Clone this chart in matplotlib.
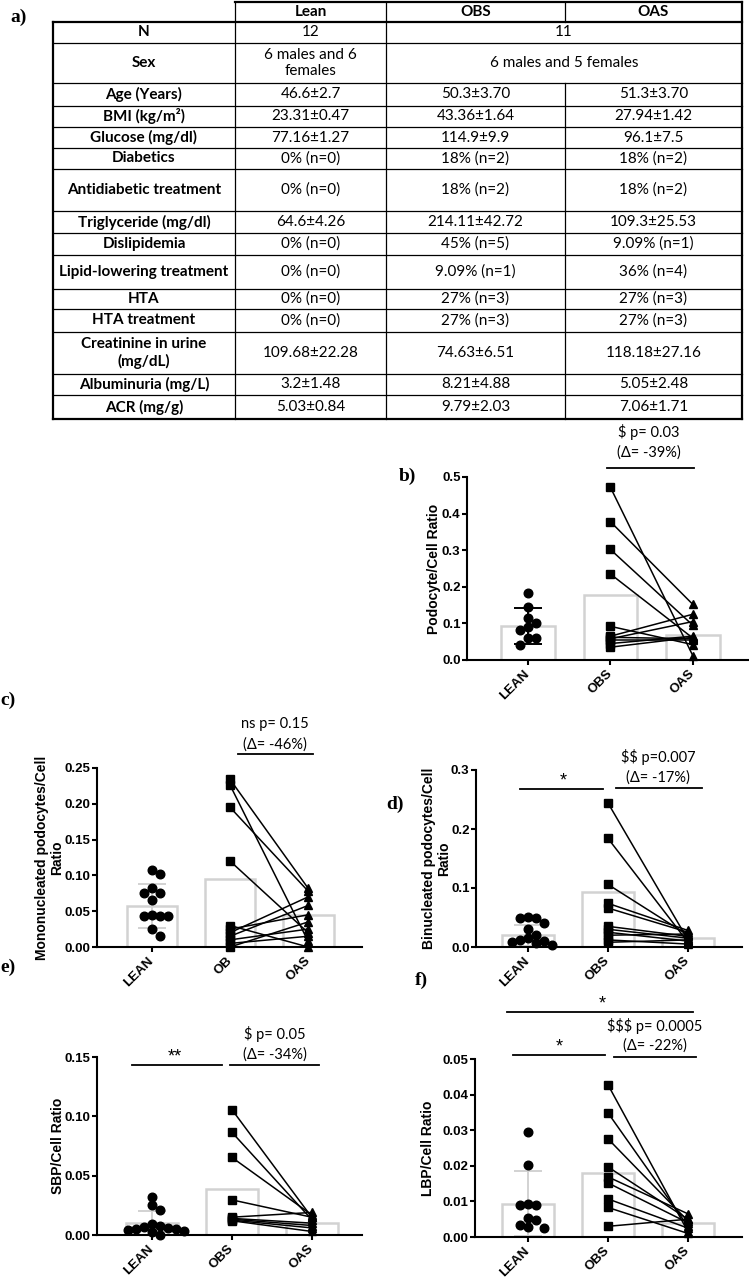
import numpy as np
import matplotlib.pyplot as plt

W, H = 749, 1279
TXT_FONT = ['Lato', 'DejaVu Sans']
AX_FONT = ['Liberation Sans', 'DejaVu Sans']
LETTER_FONT = ['Liberation Serif', 'DejaVu Serif']
BAR_EDGE = '#d2d2d2'

plt.rcParams['font.family'] = AX_FONT

# ---------------- table a) ----------------
col_headers = ['Lean', 'OBS', 'OAS']
row_labels = ['N', 'Sex', 'Age (Years)', 'BMI (kg/m²)', 'Glucose (mg/dl)', 'Diabetics',
              'Antidiabetic treatment', 'Triglyceride (mg/dl)', 'Dislipidemia',
              'Lipid-lowering treatment', 'HTA', 'HTA treatment',
              'Creatinine in urine\n(mg/dL)', 'Albuminuria (mg/L)', 'ACR (mg/g)']
lean_vals = ['12', '6 males and 6\nfemales', '46.6±2.7', '23.31±0.47', '77.16±1.27', '0% (n=0)',
             '0% (n=0)', '64.6±4.26', '0% (n=0)', '0% (n=0)', '0% (n=0)', '0% (n=0)',
             '109.68±22.28', '3.2±1.48', '5.03±0.84']
obs_vals = ['11', '6 males and 5 females', '50.3±3.70', '43.36±1.64', '114.9±9.9', '18% (n=2)',
            '18% (n=2)', '214.11±42.72', '45% (n=5)', '9.09% (n=1)', '27% (n=3)', '27% (n=3)',
            '74.63±6.51', '8.21±4.88', '9.79±2.03']
# None -> cell merged with the OBS column
oas_vals = [None, None, '51.3±3.70', '27.94±1.42', '96.1±7.5', '18% (n=2)',
            '18% (n=2)', '109.3±25.53', '9.09% (n=1)', '36% (n=4)', '27% (n=3)', '27% (n=3)',
            '118.18±27.16', '5.05±2.48', '7.06±1.71']

# ---------------- panel data ----------------
groups = ['LEAN', 'OBS', 'OAS']
groups_c = ['LEAN', 'OB', 'OAS']

# b) Podocyte/Cell ratio
b_lean = [0.182, 0.144, 0.116, 0.102, 0.091, 0.082, 0.059, 0.059, 0.041]
b_obs = [0.472, 0.378, 0.302, 0.235, 0.092, 0.065, 0.062, 0.058, 0.055, 0.045, 0.035]
b_oas = [0.012, 0.152, 0.095, 0.060, 0.042, 0.125, 0.058, 0.105, 0.055, 0.065, 0.062]
b_means = [0.093, 0.177, 0.068]
b_sd = 0.048

# c) Mononucleated podocytes/Cell ratio
c_lean = [0.107, 0.102, 0.083, 0.076, 0.076, 0.065, 0.045, 0.043, 0.043, 0.043, 0.025, 0.015]
c_obs = [0.234, 0.226, 0.195, 0.120, 0.030, 0.025, 0.020, 0.015, 0.010, 0.005, 0.000]
c_oas = [0.082, 0.008, 0.078, 0.020, 0.000, 0.045, 0.070, 0.058, 0.025, 0.015, 0.035]
c_means = [0.057, 0.095, 0.044]
c_sd = 0.031

# d) Binucleated podocytes/Cell ratio
d_lean = [0.051, 0.049, 0.049, 0.040, 0.030, 0.020, 0.015, 0.012, 0.010, 0.008, 0.006, 0.004]
d_obs = [0.244, 0.184, 0.106, 0.074, 0.066, 0.035, 0.030, 0.025, 0.020, 0.012, 0.008]
d_oas = [0.012, 0.008, 0.020, 0.028, 0.025, 0.018, 0.015, 0.010, 0.022, 0.005, 0.012]
d_means = [0.020, 0.094, 0.015]
d_sd = 0.018

# e) SBP/Cell ratio
e_lean = [0.0324, 0.0254, 0.0211, 0.0093, 0.0076, 0.0065, 0.0056, 0.0048, 0.0048,
          0.0040, 0.0030, 0.0028, 0.0]
e_obs = [0.1057, 0.0866, 0.0654, 0.0296, 0.0150, 0.0140, 0.0133, 0.0125, 0.0120]
e_oas = [0.015, 0.013, 0.017, 0.015, 0.019, 0.010, 0.008, 0.006, 0.003]
e_means = [0.0098, 0.0386, 0.0104]
e_sd = 0.0108

# f) LBP/Cell ratio
f_lean = [0.0296, 0.0202, 0.0094, 0.0091, 0.0091, 0.0052, 0.0047, 0.0033, 0.0028, 0.0026]
f_obs = [0.0428, 0.0349, 0.0276, 0.0197, 0.0169, 0.0152, 0.0107, 0.0083, 0.0030]
f_oas = [0.0015, 0.0030, 0.0045, 0.0050, 0.0065, 0.0040, 0.0025, 0.0010, 0.0050]
f_means = [0.0094, 0.0181, 0.0038]
f_sd = 0.0091


fig = plt.figure(figsize=(W / 100, H / 100), dpi=100)

# ---------------- draw table ----------------
tax = fig.add_axes([0, 0, 1, 1])
tax.set_xlim(0, W)
tax.set_ylim(H, 0)
tax.axis('off')

col_edges = [53, 235, 386, 565, 742]
row_edges = [2, 22, 43, 83, 106, 127, 148, 169, 211, 233, 255, 289, 309, 332, 374, 395, 419]
thick, thin = 1.6, 0.9

# horizontal lines
tax.plot([col_edges[1], col_edges[-1]], [row_edges[0]] * 2, color='black', lw=thick)
for i, y in enumerate(row_edges[1:]):
    lw = thick if i in (0, len(row_edges) - 2) else thin
    tax.plot([col_edges[0], col_edges[-1]], [y, y], color='black', lw=lw)
# vertical lines
tax.plot([col_edges[0]] * 2, [row_edges[1], row_edges[-1]], color='black', lw=thick)
tax.plot([col_edges[1]] * 2, [row_edges[0], row_edges[-1]], color='black', lw=thin)
tax.plot([col_edges[2]] * 2, [row_edges[0], row_edges[-1]], color='black', lw=thin)
tax.plot([col_edges[3]] * 2, [row_edges[0], row_edges[1]], color='black', lw=thin)
tax.plot([col_edges[3]] * 2, [row_edges[3], row_edges[-1]], color='black', lw=thin)
tax.plot([col_edges[4]] * 2, [row_edges[0], row_edges[-1]], color='black', lw=thick)

TFS = 11
cx = [(col_edges[i] + col_edges[i + 1]) / 2 for i in range(4)]
yc0 = (row_edges[0] + row_edges[1]) / 2
for j, h in enumerate(col_headers):
    tax.text(cx[j + 1], yc0, h, ha='center', va='center', fontsize=TFS,
             fontweight='bold', family=TXT_FONT)
for i, lab in enumerate(row_labels):
    yc = (row_edges[i + 1] + row_edges[i + 2]) / 2
    tax.text(cx[0], yc, lab, ha='center', va='center', fontsize=TFS, fontweight='bold',
             family=TXT_FONT, linespacing=1.2)
    tax.text(cx[1], yc, lean_vals[i], ha='center', va='center', fontsize=TFS,
             family=TXT_FONT, linespacing=1.2)
    if oas_vals[i] is None:
        tax.text((col_edges[2] + col_edges[4]) / 2, yc, obs_vals[i], ha='center', va='center',
                 fontsize=TFS, family=TXT_FONT)
    else:
        tax.text(cx[2], yc, obs_vals[i], ha='center', va='center', fontsize=TFS, family=TXT_FONT)
        tax.text(cx[3], yc, oas_vals[i], ha='center', va='center', fontsize=TFS, family=TXT_FONT)


def px_rect(x0, x1, ytop, ybot):
    return [x0 / W, 1 - ybot / H, (x1 - x0) / W, (ybot - ytop) / H]


def swarm(ax, values, d_px):
    vals = np.asarray(values, dtype=float)
    pts = ax.transData.transform(np.column_stack([np.zeros(len(vals)), vals]))
    unit = ax.transData.transform([(1, 0)])[0, 0] - ax.transData.transform([(0, 0)])[0, 0]
    xs = np.zeros(len(vals))
    placed = []
    for i in np.argsort(-vals):
        y = pts[i, 1]
        for k in (0, 1, -1, 2, -2, 3, -3, 4, -4):
            xp = k * d_px
            if all((xp - px) ** 2 + (y - py) ** 2 >= (d_px * 0.95) ** 2 for px, py in placed):
                break
        placed.append((xp, y))
        xs[i] = xp / unit
    return xs


def panel(rect, xlim, ylim, ystep, yfmt, labels, lean, obs, oas, means, sd, sd_color,
          ylabel, ylabel_x):
    ax = fig.add_axes(rect)
    ax.set_xlim(*xlim)
    ax.set_ylim(*ylim)
    x = np.arange(3)
    ax.bar(x, means, width=0.65, color='white', edgecolor=BAR_EDGE, linewidth=1.8, zorder=1)
    ax.errorbar([0], [means[0]], yerr=[sd], fmt='none', ecolor=sd_color, elinewidth=1.4,
                capsize=10, capthick=1.4, zorder=2)
    for o, a in zip(obs, oas):
        ax.plot([1, 2], [o, a], color='black', lw=1.1, zorder=3, clip_on=False)
    dx = swarm(ax, lean, 8.0)
    ax.plot(dx, lean, 'o', ms=6.2, color='black', zorder=4, clip_on=False)
    ax.plot(np.ones(len(obs)), obs, 's', ms=5.8, color='black', zorder=4, clip_on=False)
    ax.plot(np.full(len(oas), 2), oas, '^', ms=6.3, color='black', zorder=4, clip_on=False)

    for s in ('top', 'right'):
        ax.spines[s].set_visible(False)
    for s in ('left', 'bottom'):
        ax.spines[s].set_linewidth(1.5)
    ticks = np.arange(ylim[0], ylim[1] + ystep / 2, ystep)
    ax.set_yticks(ticks)
    ax.set_yticklabels([format(t, yfmt) for t in ticks], fontsize=9.5, fontweight='bold')
    ax.set_xticks(x)
    ax.set_xticklabels(labels, fontsize=9.5, fontweight='bold', rotation=45,
                       ha='right', va='center', rotation_mode='anchor')
    ax.tick_params(axis='both', width=1.5, length=3.6, color='black')
    ax.tick_params(axis='x', pad=5)
    ax.tick_params(axis='y', pad=1)
    ax.set_ylabel(ylabel, fontsize=10, fontweight='bold', linespacing=1.1)
    ax.yaxis.label.set_va('center')
    ax.yaxis.set_label_coords(ylabel_x, 0.5)
    ax.patch.set_alpha(0)
    return ax


def note(ax, x, y, s, size=10.5):
    ax.text(x, y, s, ha='center', va='center', fontsize=size, family=TXT_FONT,
            clip_on=False, parse_math=False)


def star(ax, x, y_line, s):
    ax.annotate(s, (x, y_line), xytext=(0, 2.5), textcoords='offset points', ha='center',
                va='baseline', fontsize=13, family=AX_FONT, annotation_clip=False)


def hline(ax, x0, x1, y):
    ax.plot([x0, x1], [y, y], color='black', lw=1.3, clip_on=False)


def letter(x, y, s):
    fig.text(x / W, 1 - y / H, s, ha='center', va='center', fontsize=14, fontweight='bold',
             family=LETTER_FONT)


# b)
ax = panel(px_rect(467, 748, 477, 660), (-0.74, 2.67), (0, 0.5), 0.1, '.1f', groups,
           b_lean, b_obs, b_oas, b_means, b_sd, 'black', 'Podocyte/Cell Ratio', -0.117)
hline(ax, 0.96, 2.02, 0.525)
note(ax, 1.47, 0.566, '(Δ= -39%)')
note(ax, 1.47, 0.623, '$ p= 0.03')
letter(407, 476, 'b)')

# c)
ax = panel(px_rect(97, 362, 768, 947), (-0.705, 2.69), (0, 0.25), 0.05, '.2f', groups_c,
           c_lean, c_obs, c_oas, c_means, c_sd, BAR_EDGE,
           'Mononucleated podocytes/Cell\nRatio', -0.18)
hline(ax, 1.1, 2.06, 0.269)
note(ax, 1.58, 0.283, '(Δ= -46%)')
note(ax, 1.58, 0.311, 'ns p= 0.15')
letter(8, 700, 'c)')

# d)
ax = panel(px_rect(476, 742, 770, 947), (-0.65, 2.675), (0, 0.3), 0.1, '.1f', groups,
           d_lean, d_obs, d_oas, d_means, d_sd, BAR_EDGE,
           'Binucleated podocytes/Cell\nRatio', -0.15)
hline(ax, -0.1, 0.94, 0.268)
star(ax, 0.44, 0.268, '*')
hline(ax, 1.1, 2.18, 0.270)
note(ax, 1.63, 0.288, '(Δ= -17%)')
note(ax, 1.63, 0.322, '$$ p=0.007')
letter(395, 804, 'd)')

# e)
ax = panel(px_rect(97, 362, 1057, 1235), (-0.69, 2.63), (0, 0.15), 0.05, '.2f', groups,
           e_lean, e_obs, e_oas, e_means, e_sd, BAR_EDGE, 'SBP/Cell Ratio', -0.147)
hline(ax, -0.25, 0.875, 0.1433)
star(ax, 0.29, 0.1433, '**')
hline(ax, 0.975, 2.09, 0.1433)
note(ax, 1.54, 0.152, '(Δ= -34%)')
note(ax, 1.54, 0.169, '$ p= 0.05')
letter(8, 967, 'e)')

# f)
ax = panel(px_rect(475, 742, 1059, 1237), (-0.66, 2.675), (0, 0.05), 0.01, '.2f', groups,
           f_lean, f_obs, f_oas, f_means, f_sd, BAR_EDGE, 'LBP/Cell Ratio', -0.176)
hline(ax, -0.26, 2.06, 0.0631)
star(ax, 0.925, 0.0631, '*')
hline(ax, -0.19, 0.96, 0.0510)
star(ax, 0.39, 0.0510, '*')
hline(ax, 1.07, 2.10, 0.0507)
note(ax, 1.59, 0.0538, '(Δ= -22%)')
note(ax, 1.59, 0.0594, '$$$ p= 0.0005')
letter(421, 980, 'f)')

letter(19, 17, 'a)')

fig.savefig('out.png', dpi=100, facecolor='white')
